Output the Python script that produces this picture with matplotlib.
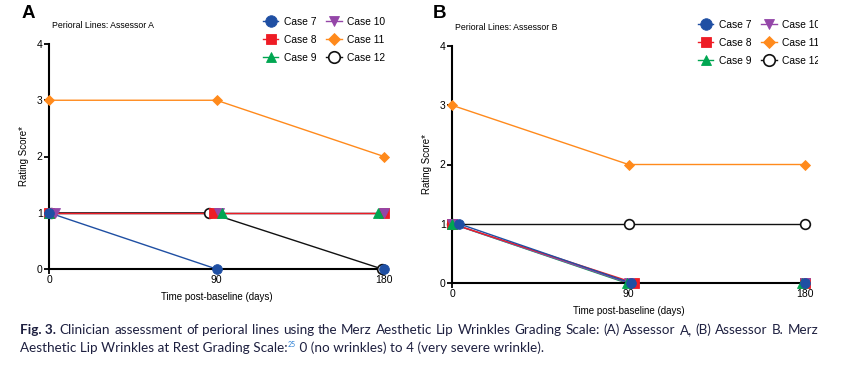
import matplotlib.pyplot as plt
from matplotlib.lines import Line2D
from matplotlib.transforms import Bbox

plt.rcParams['font.family'] = ['Liberation Sans', 'DejaVu Sans']

days = [0, 90, 180]
cases = ['Case 7', 'Case 8', 'Case 9', 'Case 10', 'Case 11', 'Case 12']

# Rating scores per case at day 0, 90, 180
scores_a = [
    [1, 0, 0],  # Case 7
    [1, 1, 1],  # Case 8
    [1, 1, 1],  # Case 9
    [1, 1, 1],  # Case 10
    [3, 3, 2],  # Case 11
    [1, 1, 0],  # Case 12
]
scores_b = [
    [1, 0, 0],
    [1, 0, 0],
    [1, 0, 0],
    [1, 0, 0],
    [3, 2, 2],
    [1, 1, 1],
]

# style
colors = ['#1f4fa3', '#ee1c25', '#00a651', '#9446a8', '#ff8a1c', '#111111']
markers = ['o', 's', '^', 'v', 'D', 'o']
sizes = [7, 6.6, 6.6, 6.6, 5.2, 7]
# GraphPad-style horizontal nudge (days) so overlapping points stay visible
nudge_a = [[0, 0, 0], [0, -1.5, 0], [0, 3, -3], [3, 1.5, 0], [0, 0, 0], [1, -4, -1]]
nudge_b = [[3.5, 1.2, 0], [0, 3, 0], [0, -1, -1.5], [0, 0, 0], [0, 0, 0], [0, 0, 0]]
line_order = [5, 4, 2, 3, 1, 0]
marker_order = [5, 4, 1, 3, 2, 0]


def draw_panel(ax, scores, nudge):
    for k, i in enumerate(line_order):
        xs = [d + n for d, n in zip(days, nudge[i])]
        ax.plot(xs, scores[i], color=colors[i], lw=1.0, clip_on=False, zorder=2 + k * 0.01)
    for k, i in enumerate(marker_order):
        xs = [d + n for d, n in zip(days, nudge[i])]
        face = 'white' if i == 5 else colors[i]
        ax.plot(xs, scores[i], ls='none', marker=markers[i], ms=sizes[i],
                mfc=face, mec=colors[i], mew=1.2 if i == 5 else 0.6,
                clip_on=False, zorder=3 + k * 0.01)
    ax.set_xlim(0, 180)
    ax.set_ylim(0, 4)
    ax.set_xticks(days)
    ax.set_yticks([0, 1, 2, 3, 4])
    for s in ['top', 'right']:
        ax.spines[s].set_visible(False)
    for s in ['left', 'bottom']:
        ax.spines[s].set_linewidth(1.5)
    ax.tick_params(direction='out', length=3.5, width=1.3, labelsize=7.5, pad=1)
    ax.set_xlabel('Time post-baseline (days)', fontsize=7, labelpad=5)
    ax.set_ylabel('Rating Score*', fontsize=7, labelpad=6)


def legend_handles():
    hs = []
    for i in range(len(cases)):
        face = 'white' if i == 5 else colors[i]
        hs.append(Line2D([], [], color=colors[i], lw=1.0, marker=markers[i],
                         ms=sizes[i] + 1.3, mfc=face, mec=colors[i],
                         mew=1.2 if i == 5 else 0.6))
    return hs


fig = plt.figure(figsize=(8.47, 3.65), dpi=100)

ax_a = fig.add_axes([49 / 847, 1 - 269 / 365, 335 / 847, 225 / 365])
draw_panel(ax_a, scores_a, nudge_a)
ax_b = fig.add_axes([452 / 847, 1 - 283 / 365, 353 / 847, 237 / 365])
draw_panel(ax_b, scores_b, nudge_b)

# legends in two columns, column-wise order
legends = []
for x0, y0 in [(263, 17), (698, 20)]:
    leg = fig.legend(legend_handles(), cases, ncol=2, frameon=False, fontsize=7.4,
                     loc='upper left', bbox_to_anchor=(x0 / 847, 1 - y0 / 365),
                     handlelength=1.5, handletextpad=0.5, columnspacing=1.0,
                     labelspacing=0.78, borderpad=0, borderaxespad=0)
    legends.append(leg)

# the B legend is cut off at the panel's right edge in the original
cut = Bbox.from_extents(0, 0, 818, 365)
for t in legends[1].get_texts():
    t.set_clip_box(cut)
    t.set_clip_on(True)

fig.text(22 / 847, 1 - 14 / 365, 'A', fontsize=13.5, fontweight='bold', va='center')
fig.text(433 / 847, 1 - 14 / 365, 'B', fontsize=13.5, fontweight='bold', va='center')
fig.text(52 / 847, 1 - 25 / 365, 'Perioral Lines: Assessor A', fontsize=6.3, va='center')
fig.text(455 / 847, 1 - 27 / 365, 'Perioral Lines: Assessor B', fontsize=6.3, va='center')

# caption, built piece by piece
cap_color = '#1e2040'
cap_font = ['Lato', 'DejaVu Sans']
cap_size = 9.7
fig.canvas.draw()
renderer = fig.canvas.get_renderer()
W = fig.bbox.width


def put(x, y, s, **kw):
    t = fig.text(x, y, s, color=kw.pop('color', cap_color), family=cap_font,
                 fontsize=kw.pop('fontsize', cap_size), va='baseline', **kw)
    bb = t.get_window_extent(renderer=renderer)
    return x + bb.width / W


def width_of(s, **kw):
    t = fig.text(0, 0, s, family=cap_font, fontsize=cap_size, **kw)
    w = t.get_window_extent(renderer=renderer).width / W
    t.remove()
    return w


y1 = 1 - 334 / 365
y2 = 1 - 352 / 365
left, right = 20 / 847, 818 / 847

# first line is justified
words = ('Clinician assessment of perioral lines using the Merz Aesthetic Lip Wrinkles '
         'Grading Scale: (A) Assessor A, (B) Assessor B. Merz').split()
lead_w = width_of('Fig. 3.', fontweight='bold')
word_w = [width_of(w) for w in words]
gap = (right - left - lead_w - sum(word_w)) / len(words)
x = put(left, y1, 'Fig. 3.', fontweight='bold') + gap
for w, ww in zip(words, word_w):
    put(x, y1, w)
    x += ww + gap

x = put(left, y2, 'Aesthetic Lip Wrinkles at Rest Grading Scale:')
x = put(x, y2 + 0.013, '25', fontsize=5, color='#2a7fd4')
put(x, y2, ' 0 (no wrinkles) to 4 (very severe wrinkle).')

fig.savefig('out.png', dpi=100)
